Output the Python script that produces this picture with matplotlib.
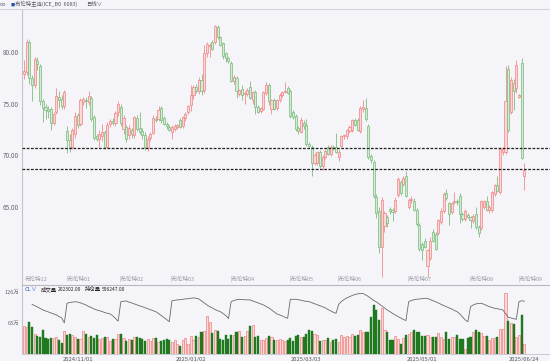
import numpy as np
import matplotlib
matplotlib.use("Agg")
import matplotlib.pyplot as plt

plt.rcParams['font.family'] = ['Noto Sans CJK SC', 'DejaVu Sans']

# ---------------- data ----------------
opens = [77.9,78.1,81.0,77.5,76.8,79.1,78.6,75.2,74.7,74.5,74.5,73.1,74.2,75.6,75.4,74.8,72.3,71.5,70.8,72.0,
         73.9,73.0,75.1,75.3,75.1,75.5,73.7,71.8,71.6,71.8,72.2,70.8,73.0,73.3,73.1,74.2,74.7,72.5,
         72.7,71.9,72.4,71.9,73.6,72.6,72.3,71.9,70.7,71.7,72.1,73.5,73.5,74.6,73.6,73.0,72.7,72.2,72.5,72.7,73.4,72.8,
         73.6,74.2,74.9,75.8,76.6,76.2,77.3,76.3,79.9,80.6,81.0,81.0,82.4,81.5,80.9,79.9,79.4,78.9,
         77.2,77.5,75.9,76.4,75.9,75.9,76.6,75.3,76.1,74.7,74.3,74.5,76.0,76.8,74.5,75.3,74.6,75.3,75.8,76.1,
         76.5,76.2,74.2,73.8,72.6,72.2,73.1,72.9,71.1,70.8,69.2,69.2,70.3,68.9,69.8,70.8,70.1,70.8,70.8,69.8,
         70.9,71.8,71.8,72.3,72.4,73.4,73.4,72.3,74.5,74.6,72.8,69.9,69.3,65.9,64.6,61.1,63.1,64.0,64.8,64.7,
         64.6,66.1,67.4,67.2,68.0,65.0,65.6,65.5,64.7,63.2,61.4,61.7,59.2,60.0,62.5,62.3,62.4,63.5,64.6,
         66.3,65.3,64.5,65.4,65.5,66.0,64.3,63.8,64.2,64.0,63.6,64.3,63.0,62.9,65.0,65.5,64.7,64.7,66.2,67.1,
         66.4,70.3,70.3,78.4,74.2,77.0,76.5,75.6,78.9,68.0]
highs = [79.2,81.3,81.2,77.8,79.5,79.5,78.8,75.4,75.0,74.8,74.7,74.2,76.5,76.2,75.8,76.3,72.8,72.0,72.6,74.2,
         74.1,75.5,75.6,75.6,76.2,75.7,73.9,72.0,72.4,73.0,72.4,73.2,73.5,73.6,74.3,75.2,75.0,73.9,
         72.9,72.9,72.6,73.8,73.9,74.2,72.6,72.2,71.8,72.2,73.9,73.8,74.8,74.8,73.8,73.2,72.9,72.9,73.0,73.0,73.6,73.8,
         74.2,74.9,76.8,76.8,76.9,77.6,77.9,80.7,81.0,80.9,81.2,82.6,82.6,81.6,81.0,80.0,79.5,79.1,
         77.8,77.7,76.4,76.8,76.2,76.5,77.2,76.2,76.3,74.9,74.7,76.2,77.1,77.0,75.4,75.5,75.4,76.0,76.2,77.1,
         76.7,76.4,74.4,74.0,72.8,73.7,73.4,73.5,71.3,71.0,70.2,70.4,70.5,70.0,70.6,71.0,71.0,71.0,72.1,70.6,
         71.9,72.0,72.5,72.9,73.5,73.6,73.6,74.8,75.3,75.5,73.0,70.1,69.5,66.2,65.0,65.9,64.6,64.2,65.0,64.9,
         65.9,67.9,67.6,68.0,68.4,65.8,66.0,65.8,64.9,63.4,61.6,61.9,60.9,62.0,62.8,62.5,63.8,64.9,66.4,
         66.7,65.4,65.4,66.4,65.7,66.3,64.5,64.8,64.4,64.1,64.3,65.0,63.2,65.6,65.6,66.0,65.1,66.5,67.2,68.0,
         70.8,70.8,78.6,78.7,77.6,77.4,79.2,75.9,79.4,69.2]
lows = [77.4,77.8,76.9,75.2,76.5,78.3,74.9,73.2,73.5,73.6,72.4,72.9,74.0,74.6,74.5,74.5,70.2,70.3,70.6,71.7,
        72.6,72.8,74.9,74.6,74.9,73.3,71.5,71.4,70.8,71.4,70.6,70.7,72.7,72.9,72.8,73.8,72.8,72.0,
        71.3,71.6,71.7,71.7,72.3,72.0,71.6,70.5,70.4,71.4,72.0,73.2,73.3,73.1,72.9,72.5,72.3,71.6,72.3,72.5,72.6,72.6,
        73.3,74.0,74.3,75.4,76.0,75.9,75.8,76.0,79.5,79.5,80.2,80.8,81.3,80.6,79.3,79.0,78.9,77.1,
        76.9,75.5,75.7,75.3,75.0,75.7,75.4,75.0,74.0,74.1,74.1,74.4,75.8,74.9,74.0,74.4,74.4,75.1,75.6,76.0,
        75.9,73.6,73.5,72.3,72.0,72.1,72.5,70.9,70.8,68.0,69.0,69.0,68.7,68.5,69.6,70.0,69.9,70.5,70.2,69.4,
        70.8,71.6,71.6,72.1,72.2,72.8,72.3,72.1,74.2,73.3,69.6,69.2,65.8,63.9,60.5,58.2,62.5,63.0,64.3,63.6,
        64.4,65.9,66.1,67.0,65.9,64.8,65.3,64.6,63.1,60.7,59.8,61.0,58.2,59.8,61.6,60.8,62.2,63.3,64.4,
        65.6,63.2,64.3,65.2,65.1,63.4,63.6,63.6,63.9,62.9,63.4,62.8,62.0,62.7,64.8,64.6,64.4,64.5,66.0,66.4,
        66.2,70.0,70.1,72.2,74.0,74.4,76.0,75.5,69.6,66.6]
closes = [78.2,81.0,77.5,76.8,79.3,78.8,75.2,74.6,74.4,74.3,73.1,74.0,75.7,75.3,74.8,76.1,71.5,70.8,72.4,73.8,
          72.9,75.3,75.4,75.2,75.7,73.5,71.7,71.6,72.0,72.2,70.8,72.9,73.3,73.1,74.1,75.0,73.1,73.6,
          71.6,72.6,72.0,73.7,72.5,72.2,71.9,70.8,71.6,72.0,73.6,73.4,74.4,73.4,73.0,72.8,72.4,72.7,72.8,72.9,72.7,73.7,
          74.0,74.8,75.8,76.6,76.2,77.3,76.2,79.9,80.8,80.7,80.3,82.5,81.5,80.7,79.6,79.4,79.1,77.2,
          77.6,76.2,76.3,75.8,76.0,76.3,75.5,76.1,74.7,74.2,74.6,76.1,76.8,75.2,75.3,74.5,75.3,75.8,76.1,76.2,
          76.0,73.8,73.7,72.5,72.3,73.4,72.8,71.1,70.9,69.2,70.0,70.3,68.9,69.8,70.4,70.1,70.8,70.7,70.3,70.3,
          71.8,71.9,72.4,72.7,73.4,72.9,72.4,74.6,74.7,73.5,69.8,69.5,66.0,64.4,61.1,65.6,64.4,63.4,64.6,64.5,
          65.6,67.7,66.3,67.8,66.0,65.6,65.7,64.7,63.3,60.9,60.8,61.1,60.8,61.7,61.7,60.9,63.7,64.6,66.2,
          65.8,64.3,65.3,65.5,65.4,64.3,63.8,64.6,64.0,63.7,64.1,63.0,62.4,65.5,65.5,64.7,65.0,66.4,67.1,66.5,
          70.6,70.6,75.2,72.4,77.3,76.2,78.7,75.8,69.7,68.5]

volume_wan = [57,54,65,55,40,37,35,49,32,31,32,33,35,28,22,47,39,41,39,34,
              31,31,47,41,34,37,33,38,31,32,34,35,26,31,31,41,40,33,26,31,
              28,34,35,32,30,27,30,27,32,32,24,26,28,30,28,25,28,20,16,28,
              32,20,37,28,37,35,45,47,77,66,43,49,47,30,28,39,30,39,39,45,
              47,35,37,47,56,59,35,37,28,28,32,37,34,28,28,
              31,28,27,28,33,27,37,39,34,34,41,49,47,41,39,27,28,28,32,25,
              28,30,25,39,34,37,34,41,37,39,49,45,45,45,76,100,90,69,94,49,
              45,28,28,37,30,20,32,39,41,45,49,45,45,37,37,39,34,35,34,
              43,35,31,45,31,34,34,39,30,31,10,33,34,45,49,45,43,37,37,28,
              32,32,34,51,51,123,67,63,61,34,39,79,20]

nan = float('nan')
oi_wan = [nan,nan,nan,54.1,53.4,52.8,52.0,51.3,50.8,50.3,49.8,49.3,48.8,48.0,47.3,44.8,
          54.6,55.0,55.2,55.4,55.2,54.8,54.3,53.8,53.0,52.5,51.8,51.3,50.9,50.5,50.0,49.6,49.3,48.3,47.0,45.7,
          55.4,55.6,55.8,55.2,54.8,54.3,53.8,53.3,52.9,52.4,51.9,51.4,50.9,50.4,49.5,48.5,47.5,46.5,45.4,
          55.9,56.1,56.3,56.4,56.6,56.8,56.9,57.1,57.3,57.1,56.8,55.8,54.8,53.8,52.9,52.3,51.5,50.9,50.4,49.5,48.5,47.0,
          55.4,56.0,56.4,56.6,56.5,56.4,56.3,56.3,55.8,55.3,54.8,54.3,53.8,53.0,52.3,51.3,50.3,49.3,48.8,48.3,47.6,47.1,
          56.6,56.6,56.6,56.4,56.1,55.8,55.6,55.4,54.9,54.4,53.9,53.4,52.9,52.3,51.5,50.8,50.1,49.6,
          54.1,55.5,56.5,57.3,57.9,58.5,59.0,59.3,59.5,59.5,58.8,58.0,57.0,56.0,55.3,54.3,53.3,52.3,51.3,50.5,49.5,48.8,48.0,47.3,46.5,46.0,
          55.4,56.0,56.4,56.6,56.8,56.9,57.1,57.0,56.5,55.9,55.4,54.8,54.1,53.5,52.9,52.3,51.8,51.0,50.4,49.3,47.8,46.3,45.4,
          52.9,53.8,54.3,54.5,54.6,54.1,53.5,52.9,52.5,52.1,51.9,51.6,51.3,49.5,47.6,47.3,46.9,46.6,
          55.4,55.9,55.6]

contract_labels = ["布伦特12","布伦特01","布伦特02","布伦特03","布伦特04","布伦特05","布伦特06","布伦特07","布伦特08","布伦特09"]
contract_idx = [0,16,36,55,77,99,117,143,166,184]
date_labels = ["2024/11/01","2025/01/02","2025/03/03","2025/05/01","2025/06/24"]
date_idx = [20,62,105,148,186]
price_ticks = [65,70,75,80]
vol_ticks = [63,126]
vol_tick_labels = ["63万","126万"]
hlines = [70.7,68.65]
last_volume = "202302.00"
last_oi = "556247.00"
title = "布伦特主连(ICE_B0  6083)"

# ---------------- styling ----------------
W, H = 550, 361
BG = '#f4f4f9'
UP_EDGE, UP_FACE = '#f08a8a', '#fbd8d8'
DN_EDGE, DN_FACE = '#80bd80', '#d5ebd5'
VOL_DN = '#1f7a1f'

n = len(closes)
x = np.arange(n)
o = np.array(opens); c = np.array(closes); h = np.array(highs); l = np.array(lows)
up = c >= o

fig = plt.figure(figsize=(W/100, H/100), dpi=100, facecolor=BG)

def fx(px): return px / W
def fy(py): return 1 - py / H

left_px, right_px = 22, 550
p_top, p_bot = 10, 285
v_top, v_bot = 285, 354

ax = fig.add_axes([fx(left_px), fy(p_bot), fx(right_px - left_px), (p_bot - p_top) / H])
axv = fig.add_axes([fx(left_px), fy(v_bot), fx(right_px - left_px), (v_bot - v_top) / H], sharex=ax)
for a in (ax, axv):
    a.set_facecolor(BG)
    for s in a.spines.values():
        s.set_visible(False)
    a.spines['left'].set_visible(True)
    a.spines['left'].set_color('#c4c4cc')
    a.spines['left'].set_linewidth(0.8)

dx = 2.69
ax.set_xlim(-2 / dx, (right_px - 24) / dx)
ax.set_ylim(57.38, 84.08)

# candles
wick_cols = np.where(up, UP_EDGE, DN_EDGE)
ax.vlines(x, l, h, colors=wick_cols, linewidth=0.6, zorder=1)
body_b = np.minimum(o, c)
body_h = np.maximum(np.abs(c - o), 0.06)
ax.bar(x, body_h, bottom=body_b, width=0.78,
       color=np.where(up, UP_FACE, DN_FACE), edgecolor=wick_cols, linewidth=0.55, zorder=2)

for hv in hlines:
    ax.axhline(hv, color='#222222', linestyle=(0, (2.2, 1.2)), linewidth=0.9, zorder=3)

ax.set_yticks(price_ticks)
ax.set_yticklabels([f"{t:.2f}" for t in price_ticks], fontsize=4.6, color='#666670')
ax.tick_params(axis='y', length=0, pad=2)
ax.tick_params(axis='x', length=0, labelbottom=False)

for lab, ci in zip(contract_labels, contract_idx):
    txt = lab if ci == 0 else "|" + lab
    ax.text(ci + (0.3 if ci == 0 else -0.4), 57.95, txt, fontsize=4.0, color='#9a9aa4',
            ha='left', va='center', zorder=4)

# header
fig.add_artist(plt.Line2D([0, 1], [fy(8.5), fy(8.5)], color='#d0d0d8', linewidth=0.7))
fig.text(fx(0), fy(4.2), "oo", fontsize=4.0, color='#555560', ha='left', va='center')
fig.text(fx(10.5), fy(4.2), "■", fontsize=3.0, color='#2a50b0', ha='left', va='center')
fig.text(fx(15), fy(4.2), title, fontsize=3.9, color='#555560', ha='left', va='center')
fig.text(fx(86), fy(4.2), "日线∨", fontsize=3.9, color='#555560', ha='left', va='center')

# volume panel
axv.set_ylim(0, 140.2)
vol = np.array(volume_wan, dtype=float)
axv.bar(x[up], vol[up], width=0.78, color=UP_FACE, edgecolor=UP_EDGE, linewidth=0.55, zorder=2)
axv.bar(x[~up], vol[~up], width=0.78, color=VOL_DN, edgecolor=VOL_DN, linewidth=0.3, zorder=2)
axv.set_yticks(vol_ticks)
axv.set_yticklabels(vol_tick_labels, fontsize=4.0, color='#666670')
axv.tick_params(axis='y', length=0, pad=2)
axv.set_xticks(date_idx)
axv.set_xticklabels([])
axv.tick_params(axis='x', length=2, width=0.5, color='#999999', direction='in')
for di, dl in zip(date_idx, date_labels):
    axv.annotate(dl, xy=(di, 0), xycoords=('data', 'axes fraction'),
                 xytext=(0, -3.6), textcoords='offset points',
                 fontsize=4.2, color='#555560', ha='center', va='center')
axv.spines['top'].set_visible(True)
axv.spines['top'].set_color('#b8b8c0')
axv.spines['top'].set_linewidth(0.8)
axv.spines['bottom'].set_visible(True)
axv.spines['bottom'].set_color('#c4c4cc')
axv.spines['bottom'].set_linewidth(0.6)

axo = axv.twinx()
axo.set_ylim(29.25, 63.75)
axo.plot(x, oi_wan, color='#6a6a6a', linewidth=0.6, zorder=3)
axo.set_yticks([])
for s in axo.spines.values():
    s.set_visible(False)

# volume header
hy = fy(289.5)
fig.text(fx(25), hy, "CL∨", fontsize=4.2, color='#2f5fd0', ha='left', va='center')
fig.text(fx(41), hy, "成交量", fontsize=3.9, color='#222222', ha='left', va='center')
fig.text(fx(58), hy, last_volume, fontsize=3.5, color='#222222', ha='left', va='center')
fig.text(fx(85), hy, "持仓量", fontsize=3.9, color='#222222', ha='left', va='center')
fig.text(fx(102), hy, last_oi, fontsize=3.5, color='#222222', ha='left', va='center')

fig.savefig("out.png", dpi=100, facecolor=BG)
